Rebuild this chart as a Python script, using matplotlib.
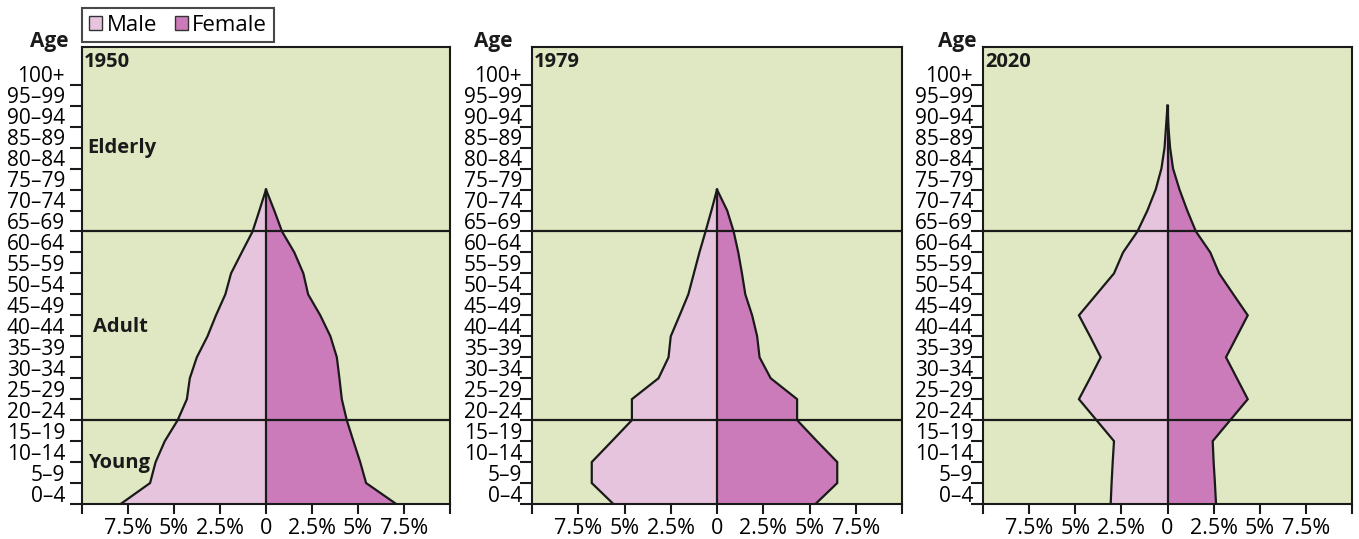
import matplotlib
matplotlib.use('Agg')
import matplotlib.pyplot as plt
from matplotlib.patches import Patch
import numpy as np

# ---------------- data ----------------
age_labels = ['0–4', '5–9', '10–14', '15–19', '20–24', '25–29', '30–34', '35–39',
              '40–44', '45–49', '50–54', '55–59', '60–64', '65–69', '70–74',
              '75–79', '80–84', '85–89', '90–94', '95–99', '100+']
years = ['1950', '1979', '2020']

# share of population (%) at each age-group boundary (index 0 = bottom)
male_1950 = [-7.9, -6.3, -6.0, -5.5, -4.8, -4.3, -4.14, -3.76, -3.18, -2.72,
             -2.21, -1.9, -1.32, -0.73, -0.36, 0.0]
female_1950 = [7.08, 5.44, 5.12, 4.75, 4.39, 4.12, 3.99, 3.85, 3.5, 2.95,
               2.29, 2.03, 1.54, 0.87, 0.45, 0.0]
male_1979 = [-5.6, -6.77, -6.77, -5.68, -4.6, -4.6, -3.16, -2.62, -2.5, -2.02,
             -1.55, -1.25, -0.95, -0.62, -0.3, 0.0]
female_1979 = [5.32, 6.5, 6.5, 5.4, 4.33, 4.33, 2.9, 2.3, 2.17, 1.9,
               1.53, 1.35, 1.15, 0.9, 0.55, 0.0]
male_2020 = [-3.08, -3.03, -2.97, -2.9, -3.85, -4.8, -4.2, -3.62, -4.2, -4.8,
             -3.85, -2.9, -2.41, -1.63, -1.09, -0.64, -0.33, -0.16, -0.08, 0.0]
female_2020 = [2.63, 2.57, 2.5, 2.45, 3.4, 4.35, 3.76, 3.17, 3.76, 4.35,
               3.57, 2.8, 2.32, 1.54, 1.07, 0.65, 0.3, 0.14, 0.05, 0.0]

male_series = [male_1950, male_1979, male_2020]
female_series = [female_1950, female_1979, female_2020]

x_ticks = [-10, -7.5, -5, -2.5, 0, 2.5, 5, 7.5, 10]
x_tick_labels = ['', '7.5%', '5%', '2.5%', '0', '2.5%', '5%', '7.5%', '']
zone_lines = [4, 13]
zone_names = ['Young', 'Adult', 'Elderly']
zone_text_y = [1.96, 8.45, 17.0]
zone_text_x = [0.016, 0.03, 0.014]

# ---------------- style ----------------
plt.rcParams['font.family'] = ['Open Sans', 'DejaVu Sans']
bg = '#DFE8C2'
male_c = '#E6C4DE'
female_c = '#CC7BBA'
ink = '#1a1a1a'

W, H = 1359, 539
fig = plt.figure(figsize=(W / 100, H / 100), dpi=100)

lefts = [82, 532, 983]
widths = [368, 370, 369]
label_pad_px = [17, 10, 10]
age_right_px = [14, 20, 6]

for i in range(3):
    ax = fig.add_axes([lefts[i] / W, 35 / H, widths[i] / W, 457 / H])
    ax.set_facecolor(bg)
    m = np.array(male_series[i])
    f = np.array(female_series[i])
    y = np.arange(len(m))
    ax.fill_betweenx(y, m, 0, color=male_c, lw=0, zorder=2)
    ax.fill_betweenx(y, 0, f, color=female_c, lw=0, zorder=2)
    ax.plot(m, y, color=ink, lw=1.6, zorder=3, solid_joinstyle='miter')
    ax.plot(f, y, color=ink, lw=1.6, zorder=3, solid_joinstyle='miter')
    ax.plot([0, 0], [0, y[-1]], color=ink, lw=1.6, zorder=3)
    for zl in zone_lines:
        ax.axhline(zl, color=ink, lw=1.6, zorder=4)

    ax.set_xlim(-10, 10)
    ax.set_ylim(0, 21.8)
    ax.set_xticks(x_ticks)
    ax.set_xticklabels(x_tick_labels, fontsize=15.5)
    ax.tick_params(axis='x', length=7, width=1.5, color=ink, pad=3)

    ax.set_yticks(np.arange(0, 21))
    ax.set_yticklabels([])
    ax.set_yticks(np.arange(len(age_labels)) + 0.5, minor=True)
    ax.set_yticklabels(age_labels, minor=True, fontsize=15)
    ax.tick_params(axis='y', which='major', length=9, width=1.5, color=ink)
    ax.tick_params(axis='y', which='minor', length=0, pad=label_pad_px[i] * 0.72)
    for s in ax.spines.values():
        s.set_linewidth(1.5)
        s.set_color(ink)

    ax.text(0.006, 0.967, years[i], transform=ax.transAxes, fontsize=14.5,
            fontweight='bold', ha='left', va='center', color=ink)
    ax.text(-age_right_px[i] / widths[i], 1.011, 'Age', transform=ax.transAxes,
            fontsize=15, fontweight='bold', ha='right', va='center', color=ink)

    if i == 0:
        for name, ty, tx in zip(zone_names, zone_text_y, zone_text_x):
            ax.text(tx, ty, name, transform=ax.get_yaxis_transform(), fontsize=14.5,
                    fontweight='bold', ha='left', va='center', color=ink, zorder=5)

handles = [Patch(facecolor=male_c, edgecolor='#333333', lw=1),
           Patch(facecolor=female_c, edgecolor='#333333', lw=1)]
leg = fig.legend(handles, ['Male', 'Female'], ncol=2, loc='upper left',
                 bbox_to_anchor=(82 / W, 1 - 8 / H), frameon=True, fancybox=False,
                 edgecolor=ink, fontsize=16, handlelength=0.6, handleheight=0.6,
                 handletextpad=0.2, columnspacing=0.8, borderpad=0.3,
                 borderaxespad=0)
leg.get_frame().set_linewidth(1.5)

fig.savefig('out.png', dpi=100)
